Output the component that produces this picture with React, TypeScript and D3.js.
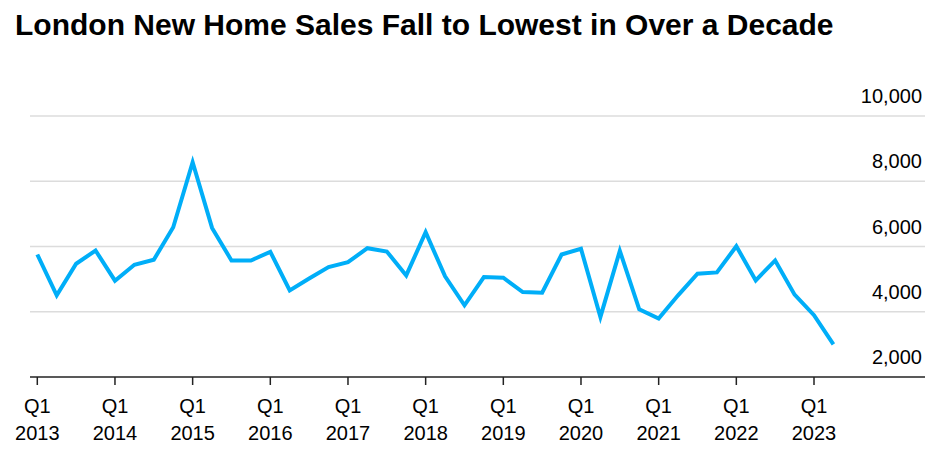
import * as d3 from "d3";

// Quarterly London new home sales, Q1 2013 – Q2 2023
const startYear = 2013;
const sales: number[] = [
  5755, 4503, 5471, 5877, 4952, 5440, 5593, 6589,
  8585, 6570, 5572, 5572, 5837, 4656, 5020, 5368,
  5520, 5948, 5847, 5114, 6436, 5084, 4198, 5063,
  5043, 4604, 4584, 5755, 5929, 3841, 5867, 4076,
  3792, 4503, 5165, 5206, 6009, 4961, 5572, 4524,
  3893, 2998,
];
const yTicks: number[] = [2000, 4000, 6000, 8000, 10000];
const yearTicks: number[] = [2013, 2014, 2015, 2016, 2017, 2018, 2019, 2020, 2021, 2022, 2023];
const title = "London New Home Sales Fall to Lowest in Over a Decade";

const width = 942;
const height = 452;
const plotLeft = 30;
const plotRight = 925;
const fmt = d3.format(",");

export default function App() {
  // index 0 = Q1 2013
  const x = d3.scaleLinear().domain([0, 40]).range([37.3, 814]);
  const y = d3.scaleLinear().domain([2000, 10000]).range([377, 116]);

  const line = d3
    .line<number>()
    .x((_, i) => x(i))
    .y(d => y(d));

  return (
    <svg
      width={width}
      height={height}
      style={{ position: "absolute", left: 0, top: 0, fontFamily: "'Liberation Sans', Arial, sans-serif" }}
    >
      <text x={15} y={35} fontSize={30} fontWeight="bold" fill="#000">
        {title}
      </text>

      {/* gridlines + right-side labels */}
      {yTicks.map(t => (
        <g key={t}>
          {t > 2000 && (
            <line x1={plotLeft} x2={plotRight} y1={y(t)} y2={y(t)} stroke="#dcdcdc" strokeWidth={1.5} />
          )}
          <text x={922} y={y(t) - 13} fontSize={20} textAnchor="end" fill="#000">
            {fmt(t)}
          </text>
        </g>
      ))}

      {/* x axis */}
      <line x1={plotLeft} x2={plotRight} y1={y(2000)} y2={y(2000)} stroke="#222" strokeWidth={1.5} />
      {yearTicks.map(yr => {
        const xi = x((yr - startYear) * 4);
        return (
          <g key={yr}>
            <line x1={xi} x2={xi} y1={y(2000)} y2={y(2000) + 8} stroke="#222" strokeWidth={1.5} />
            <text x={xi} y={413} fontSize={20} textAnchor="middle" fill="#000">
              Q1
            </text>
            <text x={xi} y={440} fontSize={20} textAnchor="middle" fill="#000">
              {yr}
            </text>
          </g>
        );
      })}

      <path
        d={line(sales) || undefined}
        fill="none"
        stroke="#00aef8"
        strokeWidth={4}
        strokeLinejoin="miter"
      />
    </svg>
  );
}
